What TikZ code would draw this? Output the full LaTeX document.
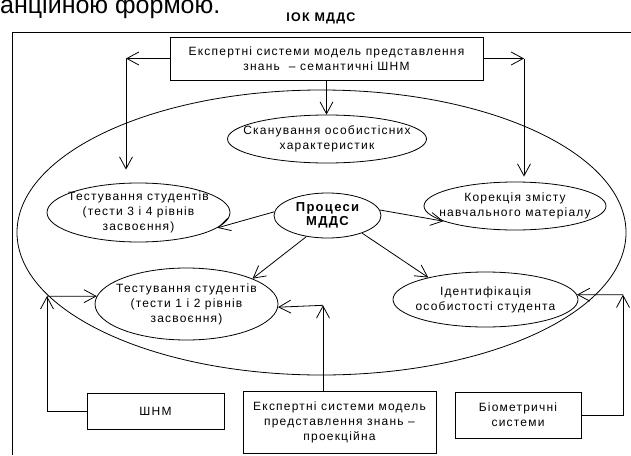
\documentclass[tikz,border=0pt]{standalone}
\usepackage{fontspec}
\setmainfont{Liberation Sans}
\newfontfamily\dgm[LetterSpace=10]{Liberation Sans}
\usetikzlibrary{shapes, arrows.meta}
\newcommand{\elltext}[1]{\makebox[0pt]{\begin{tabular}{@{}c@{}}#1\end{tabular}}}
\tikzstyle{box} = [rectangle, draw=black, line width=0.8pt, align=center, inner sep=2pt, font=\dgm\fontsize{12}{15}\selectfont]
\tikzstyle{ell} = [ellipse, draw=black, line width=0.8pt, inner xsep=0pt, inner ysep=-5pt, font=\dgm\fontsize{12}{15}\selectfont]
\tikzstyle{line} = [line width=0.8pt, -, >={Straight Barb[length=12pt,width=13pt]}]

\begin{document}
\begin{tikzpicture}[x=1pt, y=1pt]
\useasboundingbox (0,0) rectangle (631,-455);
\node (prevtext) [anchor=base west, inner sep=0pt, font=\fontsize{25}{30}\selectfont] at (0,-13) {анційною формою.};
\node (title) [font=\dgm\bfseries\fontsize{12.5}{15}\selectfont] at (321,-18.5) {ІОК МДДС};
\draw [line] (631,-32) -- (12,-32) -- (12,-455);

\node (mdds) [ellipse, draw=black, line width=0.8pt, minimum width=609pt, minimum height=285pt] at (321.5,-232.5) {};

\node (topbox) [box, minimum width=313pt, minimum height=43pt] at (326.5,-58.5) {Експертні системи модель представлення\\знань \ – семантичні ШНМ};
\node (scan) [ell, minimum width=199pt, minimum height=48pt] at (327,-139) {\elltext{Сканування особистісних\\характеристик}};
\node (test34) [ell, minimum width=183pt, minimum height=59pt] at (138.5,-212.5) {\elltext{Тестування студентів\\(тести 3 і 4 рівнів\\засвоєння)}};
\node (korek) [ell, minimum width=182pt, minimum height=48pt] at (515,-206) {\elltext{Корекція змісту\\навчального матеріалу}};
\node (proc) [ell, minimum width=107pt, minimum height=45pt, font=\dgm\bfseries\fontsize{13}{14}\selectfont] at (327.5,-215.5) {\elltext{Процеси\\МДДС}};
\node (test12) [ell, minimum width=183pt, minimum height=72pt] at (186.5,-304) {\elltext{Тестування студентів\\(тести 1 і 2 рівнів\\засвоєння)}};
\node (ident) [ell, minimum width=185pt, minimum height=55pt] at (485.5,-299.5) {\elltext{Ідентифікація\\особистості студента}};

\node (shnm) [box, minimum width=137pt, minimum height=36pt] at (155.5,-411) {ШНМ};
\node (expbox) [box, minimum width=193pt, minimum height=62pt] at (339.5,-422) {Експертні системи модель\\представлення знань –\\проекційна};
\node (bio) [box, minimum width=126pt, minimum height=46pt] at (518,-415) {Біометричні\\системи};

\coordinate (lcorner) at (126,-58.5);
\coordinate (rcorner) at (524,-58.5);
\coordinate (shnmc) at (47,-296.2);
\coordinate (expc) at (323,-305.3);
\coordinate (bioc) at (623,-294.7);

\draw [line,->] (topbox.west) -- (lcorner);
\draw [line,->,shorten >=13pt] (lcorner) -- (lcorner |- test34.north);
\draw [line,->] (topbox.east) -- (rcorner);
\draw [line,->,shorten >=5pt] (rcorner) -- (rcorner |- korek.north);
\draw [line,->] (topbox.south) -- (topbox.south |- scan.north);

\draw [line,->] (proc.176) -- (test34.-11);
\draw [line,->] (proc.6) -- (korek.192);
\draw [line,->] (proc.225) -- (test12.21);
\draw [line,->] (proc.-27) -- (ident.159);

\draw [line,->] (shnm.west) -| (shnmc);
\draw [line,->] (shnmc) -- (test12.175);
\draw [line,->] (expc |- expbox.north) -- (expc);
\draw [line,->] (expc) -- (test12.-2);
\draw [line,->] (bio.east) -| (bioc);
\draw [line,->] (bioc) -- (ident.3);
\end{tikzpicture}
\end{document}
